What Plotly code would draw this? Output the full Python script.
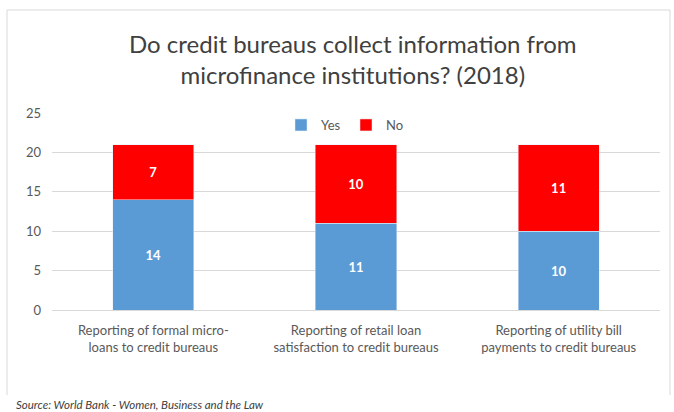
import plotly.graph_objects as go

categories = ["Reporting of formal micro-<br>loans to credit bureaus",
              "Reporting of retail loan<br>satisfaction to credit bureaus",
              "Reporting of utility bill<br>payments to credit bureaus"]
yes_values = [14, 11, 10]
no_values = [7, 10, 11]
y_ticks = [0, 5, 10, 15, 20, 25]

FONT = "Lato"
fig = go.Figure()
fig.add_trace(go.Bar(name="Yes", x=categories, y=yes_values, marker_color="#5B9BD5",
                     text=yes_values, textposition="inside", insidetextanchor="middle",
                     texttemplate="<b>%{text}</b>",
                     textfont=dict(color="white", size=13, family=FONT), width=0.4))
fig.add_trace(go.Bar(name="No", x=categories, y=no_values, marker_color="#FF0000",
                     text=no_values, textposition="inside", insidetextanchor="middle",
                     texttemplate="<b>%{text}</b>",
                     textfont=dict(color="white", size=13, family=FONT), width=0.4))

L, R, T, B = 52, 660, 113, 310
W, H = R - L, B - T
px = lambda x: (x - L) / W
py = lambda y: (B - y) / H

fig.update_layout(
    barmode="stack",
    width=674, height=412,
    margin=dict(l=L, r=674 - R, t=T, b=412 - B),
    paper_bgcolor="white", plot_bgcolor="white",
    font=dict(family=FONT, color="#595959"),
    showlegend=True,
    legend=dict(orientation="h", x=px(346), y=py(125), xanchor="center", yanchor="middle",
                font=dict(size=13, color="#595959"), bgcolor="rgba(0,0,0,0)",
                itemwidth=30, traceorder="normal", entrywidth=20, entrywidthmode="pixels"),
    yaxis=dict(range=[0, 25], tickvals=y_ticks, showgrid=True, gridcolor="#D9D9D9",
               gridwidth=1, zeroline=False, showline=False, tickfont=dict(size=13, color="#595959"),
               ticks="", ticklabelstandoff=10),
    xaxis=dict(showline=True, linecolor="#D9D9D9", tickfont=dict(size=13, color="#595959"),
               ticks="", ticklabelstandoff=8),
    annotations=[
        dict(text="Do credit bureaus collect information from<br>microfinance institutions? (2018)",
             x=px(353), y=py(59), xref="paper", yref="paper", showarrow=False,
             font=dict(size=24, color="#404040", family=FONT), xanchor="center", yanchor="middle"),
        dict(text="<i>Source: World Bank - Women, Business and the Law</i>",
             x=px(14), y=py(404), xref="paper", yref="paper", showarrow=False,
             font=dict(size=11.5, color="#404040", family=FONT), xanchor="left", yanchor="middle"),
    ],
    shapes=[
        dict(type="line", xref="paper", yref="paper", x0=px(7), x1=px(670), y0=py(10), y1=py(10),
             line=dict(color="#D9D9D9", width=1)),
        dict(type="line", xref="paper", yref="paper", x0=px(7), x1=px(7), y0=py(10), y1=py(395),
             line=dict(color="#D9D9D9", width=1)),
        dict(type="line", xref="paper", yref="paper", x0=px(670), x1=px(670), y0=py(10), y1=py(395),
             line=dict(color="#D9D9D9", width=1)),
    ],
)

fig.write_html("out.html", config={"displayModeBar": False},
               post_script="document.body.style.margin='0';")
